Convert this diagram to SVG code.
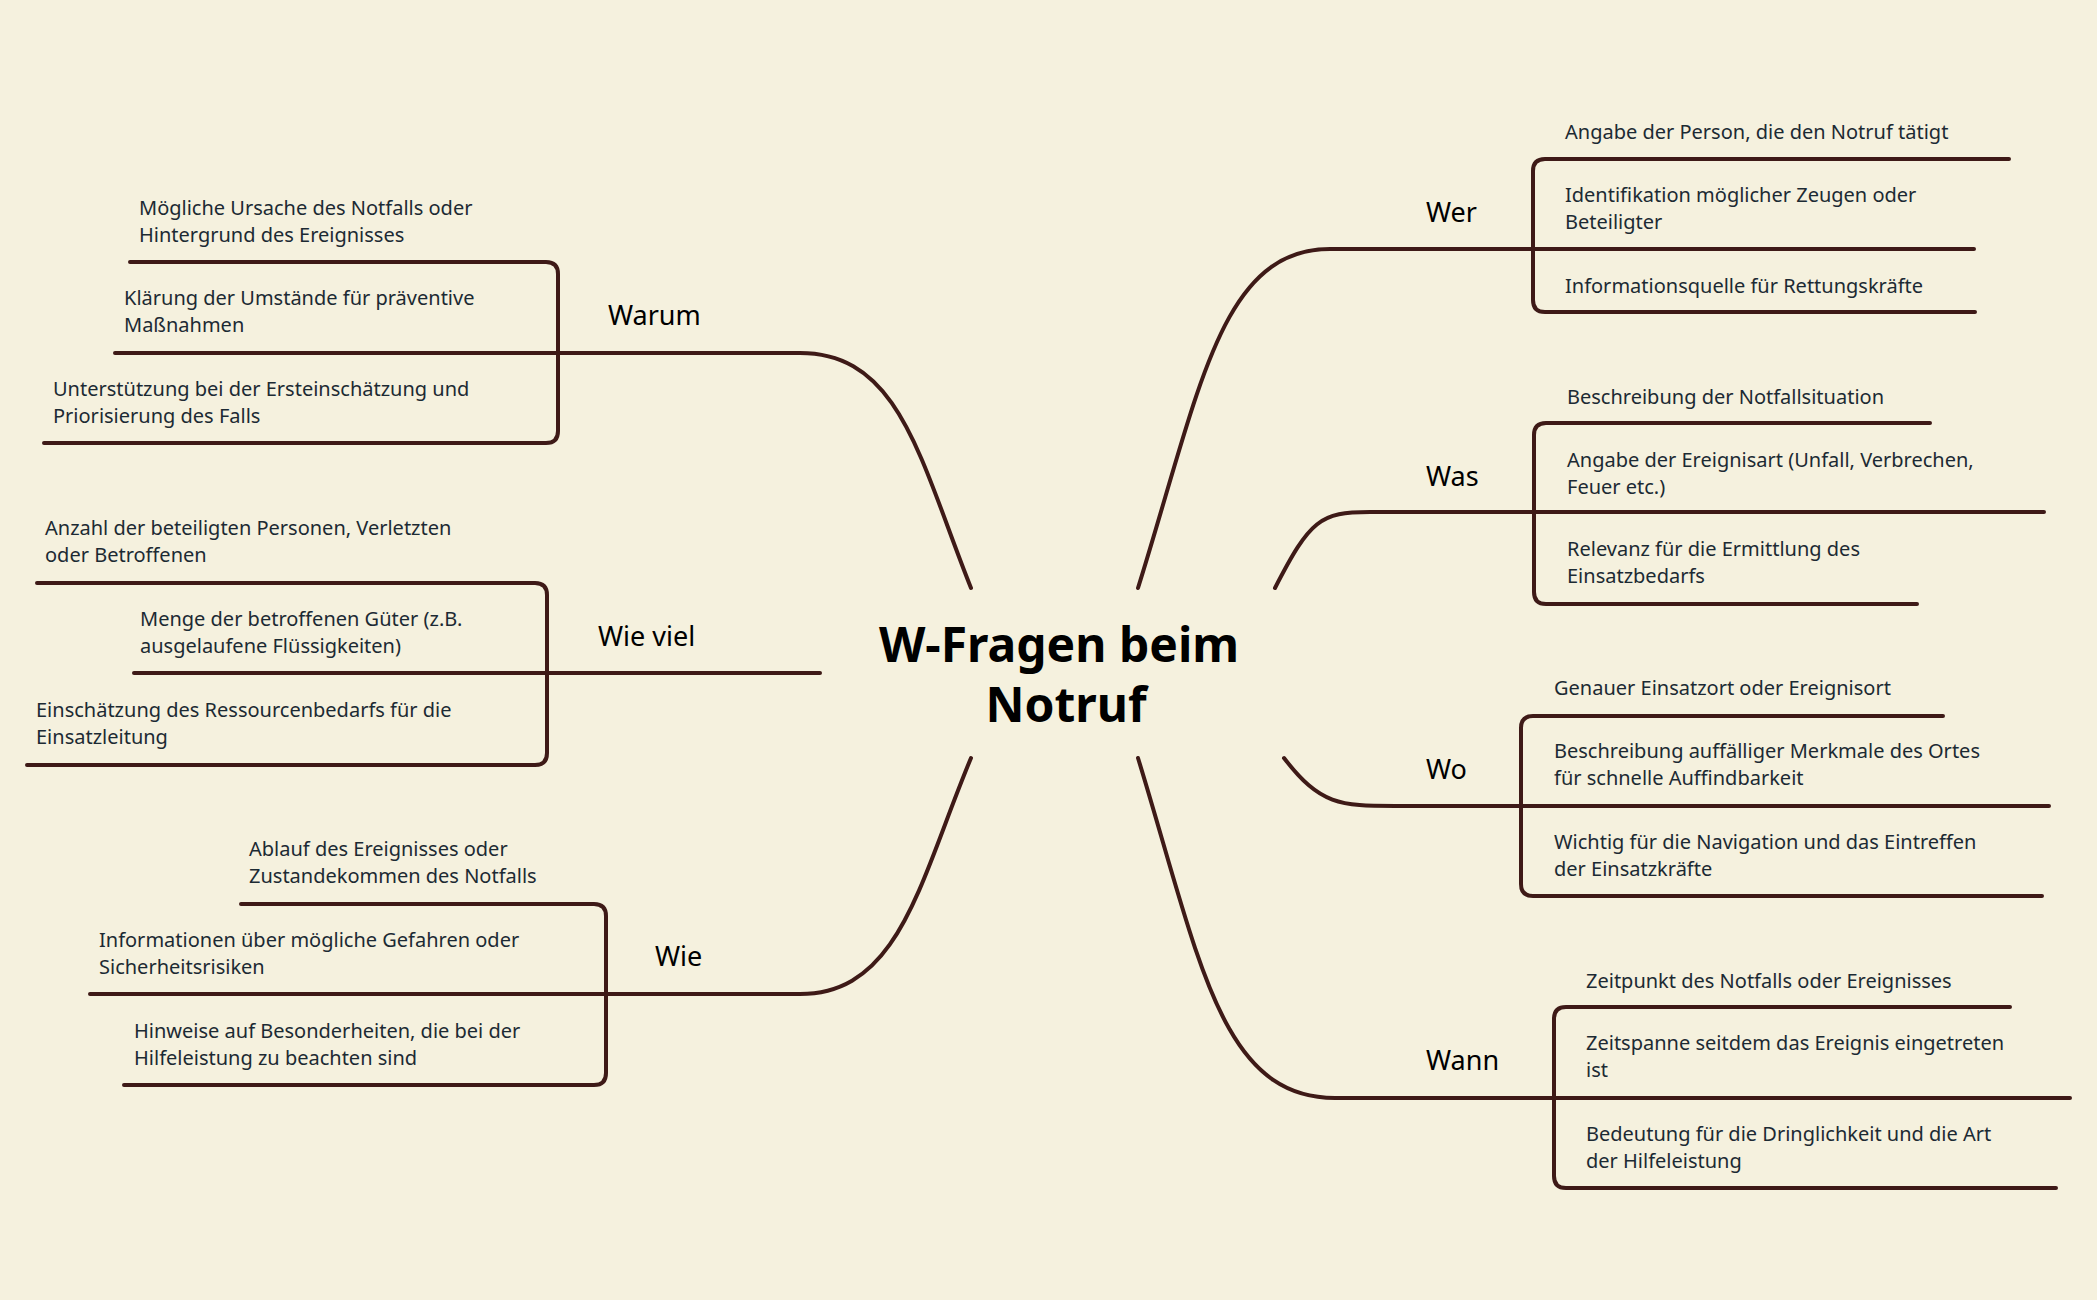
<svg xmlns="http://www.w3.org/2000/svg" width="2097" height="1300" viewBox="0 0 2097 1300">
<style>
.c{fill:none;stroke:#3e1a17;stroke-width:4;stroke-linecap:round;stroke-linejoin:round}
.t{font-family:"Noto Sans","Liberation Sans",sans-serif;font-size:20px;fill:#1c2a33}
.l{font-family:"Noto Sans","Liberation Sans",sans-serif;font-size:27px;fill:#000}
.m{font-family:"Noto Sans","Liberation Sans",sans-serif;font-size:48px;font-weight:bold;fill:#000}
</style>
<rect width="2097" height="1300" fill="#f5f1de"/>
<g id="connectors">
<path class="c" d="M1138,588 C1200,390 1220,249 1330,249 H1974"/>
<path class="c" d="M2009,159 H1545 Q1533,159 1533,171 V300 Q1533,312 1545,312 H1975"/>
<path class="c" d="M1275,588 C1310,520 1320,512 1370,512 H2044"/>
<path class="c" d="M1930,423 H1546 Q1534,423 1534,435 V592 Q1534,604 1546,604 H1917"/>
<path class="c" d="M1284,758 C1320,805 1340,806 1395,806 H2049"/>
<path class="c" d="M1943,716 H1533 Q1521,716 1521,728 V884 Q1521,896 1533,896 H2042"/>
<path class="c" d="M1138,758 C1200,960 1220,1098 1335,1098 H2070"/>
<path class="c" d="M2010,1007 H1566 Q1554,1007 1554,1019 V1176 Q1554,1188 1566,1188 H2056"/>
<path class="c" d="M971,588 C920,460 900,353 800,353 H115"/>
<path class="c" d="M130,262 H546 Q558,262 558,274 V431 Q558,443 546,443 H44"/>
<path class="c" d="M820,673 H134"/>
<path class="c" d="M37,583 H535 Q547,583 547,595 V753 Q547,765 535,765 H27"/>
<path class="c" d="M971,758 C920,880 900,994 800,994 H90"/>
<path class="c" d="M241,904 H594 Q606,904 606,916 V1073 Q606,1085 594,1085 H124"/>
</g>
<g id="center"><text class="m" text-anchor="middle" x="1059" y="662">W-Fragen beim</text><text class="m" text-anchor="middle" x="1066" y="722">Notruf</text></g>
<g id="wer"><text class="l" x="1426" y="222">Wer</text>
<text class="t" x="1565" y="139">Angabe der Person, die den Notruf tätigt</text>
<text class="t" x="1565" y="202">Identifikation möglicher Zeugen oder</text><text class="t" x="1565" y="229">Beteiligter</text>
<text class="t" x="1565" y="293">Informationsquelle für Rettungskräfte</text></g>
<g id="was"><text class="l" x="1426" y="486">Was</text>
<text class="t" x="1567" y="404">Beschreibung der Notfallsituation</text>
<text class="t" x="1567" y="467">Angabe der Ereignisart (Unfall, Verbrechen,</text><text class="t" x="1567" y="494">Feuer etc.)</text>
<text class="t" x="1567" y="556">Relevanz für die Ermittlung des</text><text class="t" x="1567" y="583">Einsatzbedarfs</text></g>
<g id="wo"><text class="l" x="1426" y="779">Wo</text>
<text class="t" x="1554" y="695">Genauer Einsatzort oder Ereignisort</text>
<text class="t" x="1554" y="758">Beschreibung auffälliger Merkmale des Ortes</text><text class="t" x="1554" y="785">für schnelle Auffindbarkeit</text>
<text class="t" x="1554" y="849">Wichtig für die Navigation und das Eintreffen</text><text class="t" x="1554" y="876">der Einsatzkräfte</text></g>
<g id="wann"><text class="l" x="1426" y="1070">Wann</text>
<text class="t" x="1586" y="988">Zeitpunkt des Notfalls oder Ereignisses</text>
<text class="t" x="1586" y="1050">Zeitspanne seitdem das Ereignis eingetreten</text><text class="t" x="1586" y="1077">ist</text>
<text class="t" x="1586" y="1141">Bedeutung für die Dringlichkeit und die Art</text><text class="t" x="1586" y="1168">der Hilfeleistung</text></g>
<g id="warum"><text class="l" x="608" y="325">Warum</text>
<text class="t" x="139" y="215">Mögliche Ursache des Notfalls oder</text><text class="t" x="139" y="242">Hintergrund des Ereignisses</text>
<text class="t" x="124" y="305">Klärung der Umstände für präventive</text><text class="t" x="124" y="332">Maßnahmen</text>
<text class="t" x="53" y="396">Unterstützung bei der Ersteinschätzung und</text><text class="t" x="53" y="423">Priorisierung des Falls</text></g>
<g id="wieviel"><text class="l" x="598" y="646">Wie viel</text>
<text class="t" x="45" y="535">Anzahl der beteiligten Personen, Verletzten</text><text class="t" x="45" y="562">oder Betroffenen</text>
<text class="t" x="140" y="626">Menge der betroffenen Güter (z.B.</text><text class="t" x="140" y="653">ausgelaufene Flüssigkeiten)</text>
<text class="t" x="36" y="717">Einschätzung des Ressourcenbedarfs für die</text><text class="t" x="36" y="744">Einsatzleitung</text></g>
<g id="wie"><text class="l" x="655" y="966">Wie</text>
<text class="t" x="249" y="856">Ablauf des Ereignisses oder</text><text class="t" x="249" y="883">Zustandekommen des Notfalls</text>
<text class="t" x="99" y="947">Informationen über mögliche Gefahren oder</text><text class="t" x="99" y="974">Sicherheitsrisiken</text>
<text class="t" x="134" y="1038">Hinweise auf Besonderheiten, die bei der</text><text class="t" x="134" y="1065">Hilfeleistung zu beachten sind</text></g>
</svg>
